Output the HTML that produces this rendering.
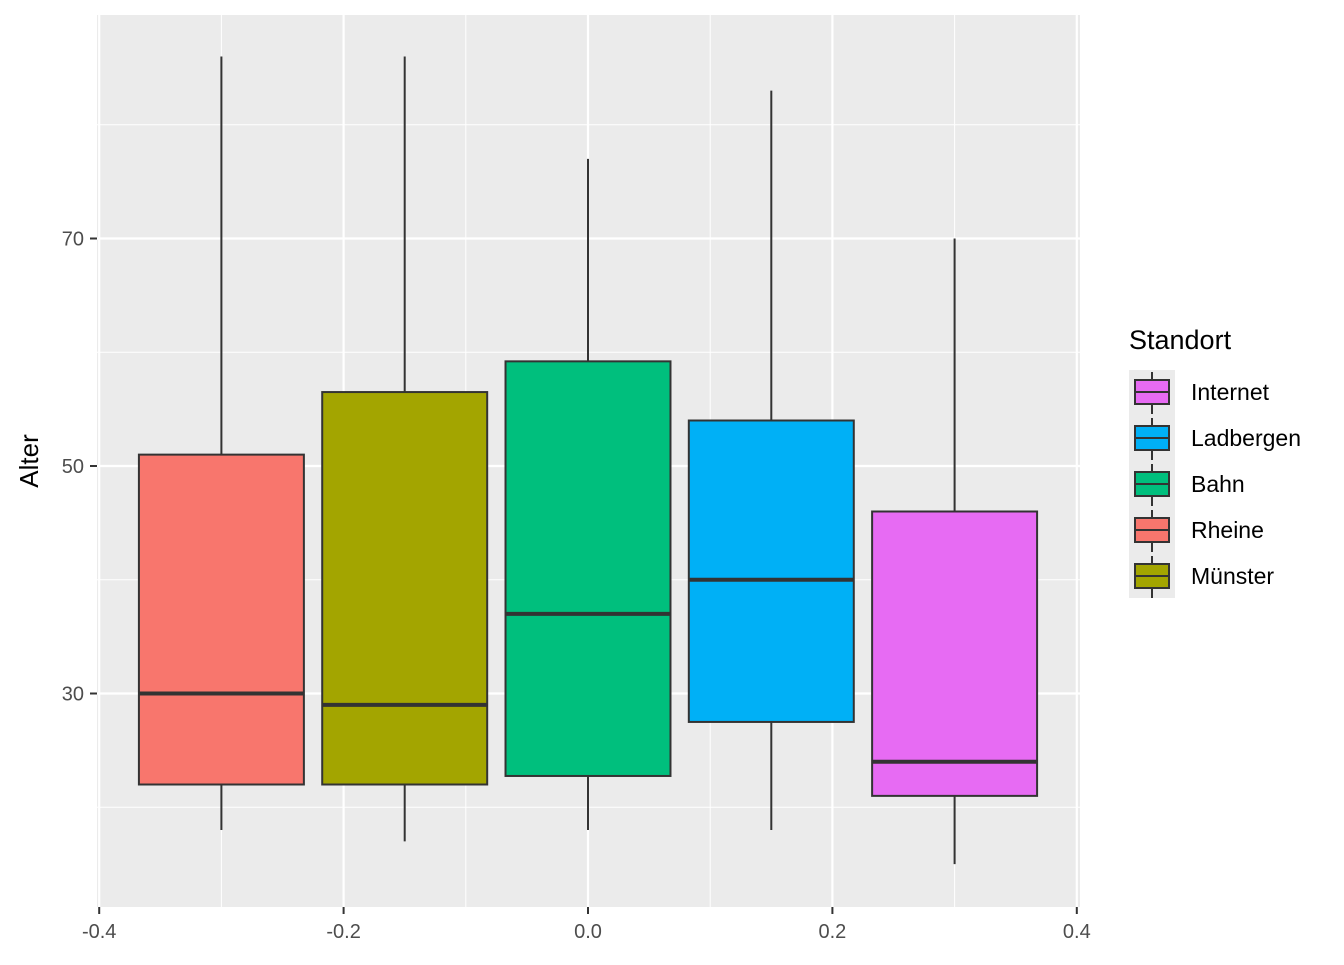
<!DOCTYPE html>
<html><head><meta charset="utf-8"><style>
body{margin:0;background:#fff;}
svg text{font-family:"Liberation Sans",sans-serif;}
</style></head><body>
<svg id="chart" width="1344" height="960" xmlns="http://www.w3.org/2000/svg">
<rect x="97" y="15" width="983" height="892" fill="#ebebeb"/>
<g id="grid"></g>
<g id="boxes"></g>
<g id="axes"></g>
<text x="38" y="461" transform="rotate(-90 38 461)" text-anchor="middle" font-size="26" fill="#000">Alter</text>
<g id="legend"></g>
</svg>
<script>
const groups=["Rheine","Münster","Bahn","Ladbergen","Internet"];
const positions=[-0.3,-0.15,0,0.15,0.3];
const lowWhisker=[18,17,18,18,15];
const q1=[22,22,22.75,27.5,21];
const median=[30,29,37,40,24];
const q3=[51,56.5,59.2,54,46];
const highWhisker=[86,86,77,83,70];
const colors=["#F8766D","#A3A500","#00BF7D","#00B0F6","#E76BF3"];
const legendOrder=["Internet","Ladbergen","Bahn","Rheine","Münster"];
const xTicks=[-0.4,-0.2,0,0.2,0.4];
const xTickLabels=["-0.4","-0.2","0.0","0.2","0.4"];
const xMinor=[-0.3,-0.1,0.1,0.3];
const yTicks=[30,50,70];
const yMinor=[20,40,60,80];
const boxHalf=0.0675;
const NS="http://www.w3.org/2000/svg";
const X=v=>588+v*1222;
const Y=v=>466-(v-50)*11.375;
function mk(p,tag,a){const e=document.createElementNS(NS,tag);for(const k in a)e.setAttribute(k,a[k]);p.appendChild(e);return e;}
const grid=document.getElementById('grid');
yMinor.forEach(v=>{const l=mk(grid,'line',{x1:97,x2:1080,y1:Y(v),y2:Y(v),stroke:'#fff','stroke-width':1});

});
xMinor.forEach(v=>{const l=mk(grid,'line',{x1:X(v),x2:X(v),y1:15,y2:907,stroke:'#fff','stroke-width':1});

});
yTicks.forEach(v=>{const l=mk(grid,'line',{x1:97,x2:1080,y1:Y(v),y2:Y(v),stroke:'#fff','stroke-width':2.2});

});
xTicks.forEach(v=>{const l=mk(grid,'line',{x1:X(v),x2:X(v),y1:15,y2:907,stroke:'#fff','stroke-width':2.2});

});
const bx=document.getElementById('boxes');
groups.forEach((g,i)=>{
 const c=X(positions[i]),l=X(positions[i]-boxHalf),r=X(positions[i]+boxHalf);
 const gg=mk(bx,'g',{});
 
 
 mk(gg,'line',{x1:c,x2:c,y1:Y(highWhisker[i]),y2:Y(q3[i]),stroke:'#333','stroke-width':2});
 mk(gg,'line',{x1:c,x2:c,y1:Y(q1[i]),y2:Y(lowWhisker[i]),stroke:'#333','stroke-width':2});
 mk(gg,'rect',{x:l,y:Y(q3[i]),width:r-l,height:Y(q1[i])-Y(q3[i]),fill:colors[i],stroke:'#333','stroke-width':2});
 mk(gg,'line',{x1:l,x2:r,y1:Y(median[i]),y2:Y(median[i]),stroke:'#333','stroke-width':4});
});
const ax=document.getElementById('axes');
yTicks.forEach(v=>{mk(ax,'line',{x1:90,x2:97,y1:Y(v),y2:Y(v),stroke:'#333','stroke-width':2});
 const t=mk(ax,'text',{x:84,y:Y(v)+7,'text-anchor':'end','font-size':20,fill:'#4d4d4d'});t.textContent=v;
 
 });
xTicks.forEach((v,i)=>{mk(ax,'line',{x1:X(v),x2:X(v),y1:907,y2:914,stroke:'#333','stroke-width':2});
 const t=mk(ax,'text',{x:X(v),y:938,'text-anchor':'middle','font-size':20,fill:'#4d4d4d'});t.textContent=xTickLabels[i];
 
 });
const lg=document.getElementById('legend');
const tt=mk(lg,'text',{x:1129,y:349,'font-size':27,fill:'#000'});tt.textContent='Standort';


mk(lg,'rect',{x:1129,y:370,width:46,height:228,fill:'#ebebeb'});
legendOrder.forEach((g,k)=>{
 const i=groups.indexOf(g),y0=370+k*46;
 const e=mk(lg,'g',{});
 
 
 mk(e,'line',{x1:1152,x2:1152,y1:y0+2,y2:y0+44,stroke:'#333','stroke-width':2});
 mk(e,'rect',{x:1135,y:y0+10,width:34,height:24,fill:colors[i],stroke:'#333','stroke-width':2});
 mk(e,'line',{x1:1135,x2:1169,y1:y0+22,y2:y0+22,stroke:'#333','stroke-width':2});
 const t=mk(e,'text',{x:1191,y:y0+30,'font-size':23,fill:'#000'});t.textContent=g;
});
</script>
</body></html>
